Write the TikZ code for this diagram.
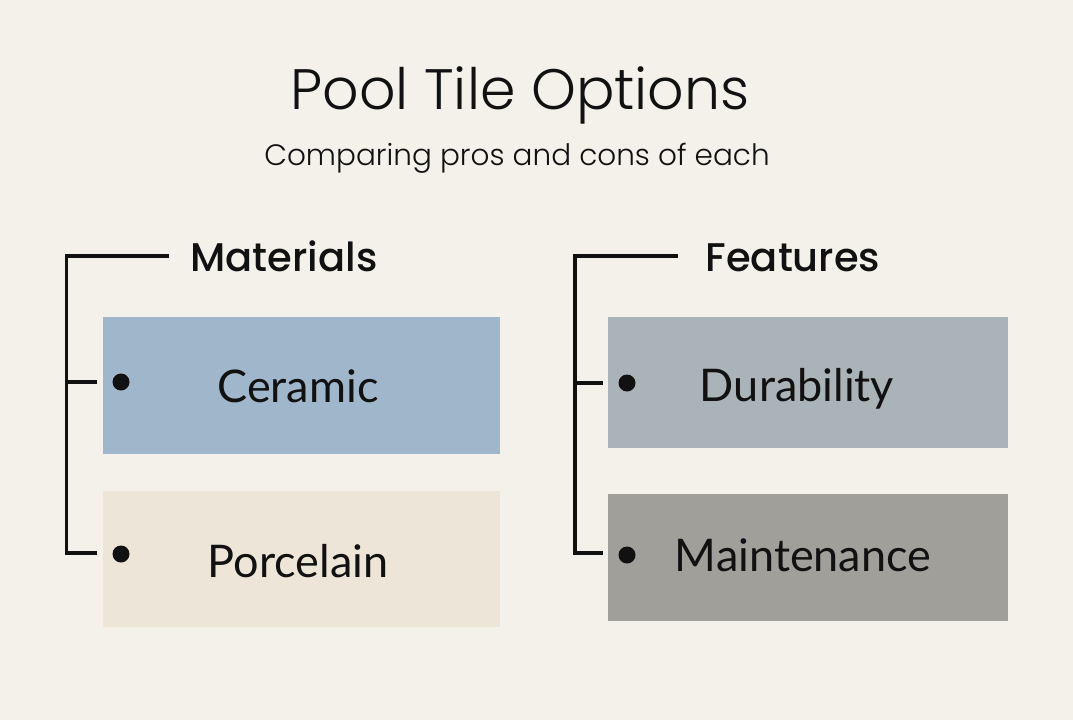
\documentclass[tikz,border=0pt]{standalone}
\usepackage{fontspec}
\newfontfamily\popfont{Poppins Light}
\newfontfamily\popmed{Poppins Medium}
\newfontfamily\latofont{Lato}
\definecolor{bg}{HTML}{F4F1EA}
\definecolor{ink}{HTML}{111111}
\definecolor{cerc}{HTML}{9FB6CB}
\definecolor{porc}{HTML}{ECE5D8}
\definecolor{durc}{HTML}{AAB4B8}
\definecolor{mntc}{HTML}{A19F9A}
\begin{document}
\begin{tikzpicture}[x=1pt,y=-1pt,
  tile/.style={draw=none,rectangle,inner sep=0pt,anchor=north west},
  lbl/.style={text=ink,inner sep=0pt,anchor=base},
  brk/.style={draw=ink,line width=3.2pt},
  dotm/.style={circle,fill=ink,inner sep=0pt,minimum size=17pt}]
\fill[bg] (0,0) rectangle (1073,720);
\useasboundingbox (0,0) rectangle (1073,720);
% title
\node[lbl] (title) at (520,109) {\popfont\fontsize{57}{66}\selectfont Pool Tile Options};
\node[lbl] (sub) at (517,165) {\popfont\fontsize{29.5}{36}\selectfont Comparing pros and cons of each};
% boxes
\node[tile,fill=cerc,minimum width=397pt,minimum height=137pt] (cer) at (103,317) {};
\node[tile,fill=porc,minimum width=397pt,minimum height=136pt] (por) at (103,491) {};
\node[tile,fill=durc,minimum width=400pt,minimum height=131pt] (dur) at (608,317) {};
\node[tile,fill=mntc,minimum width=400pt,minimum height=127pt] (mnt) at (608,494) {};
% headers
\node[lbl] (mat) at (284,271) {\popmed\fontsize{40}{46}\selectfont Materials};
\node[lbl] (fea) at (793,271) {\popmed\fontsize{40}{46}\selectfont Features};
% labels
\node[lbl] (tcer) at (298,402) {\latofont\fontsize{45}{54}\selectfont Ceramic};
\node[lbl] (tpor) at (298,577) {\latofont\fontsize{45}{54}\selectfont Porcelain};
\node[lbl] (tdur) at (797,401) {\latofont\fontsize{45}{54}\selectfont Durability};
\node[lbl] (tmnt) at (803,571) {\latofont\fontsize{45}{54}\selectfont Maintenance};
% dots
\node[dotm] (d1) at (121,382) {};
\node[dotm] (d2) at (121,554) {};
\node[dotm] (d3) at (627,383) {};
\node[dotm] (d4) at (627,555) {};
% bracket coordinates
\coordinate (lt) at (169,256);
\coordinate (lm) at (97,382);
\coordinate (lb) at (97,553);
\coordinate (rt) at (678,256);
\coordinate (rm) at (603,383);
\coordinate (rb) at (603,553);
\draw[brk] (lt) -- (66.5,256) -- (66.5,553) -- (lb);
\draw[brk] (66.5,382) -- (lm);
\draw[brk] (rt) -- (575,256) -- (575,553) -- (rb);
\draw[brk] (575,383) -- (rm);
\end{tikzpicture}
\end{document}
